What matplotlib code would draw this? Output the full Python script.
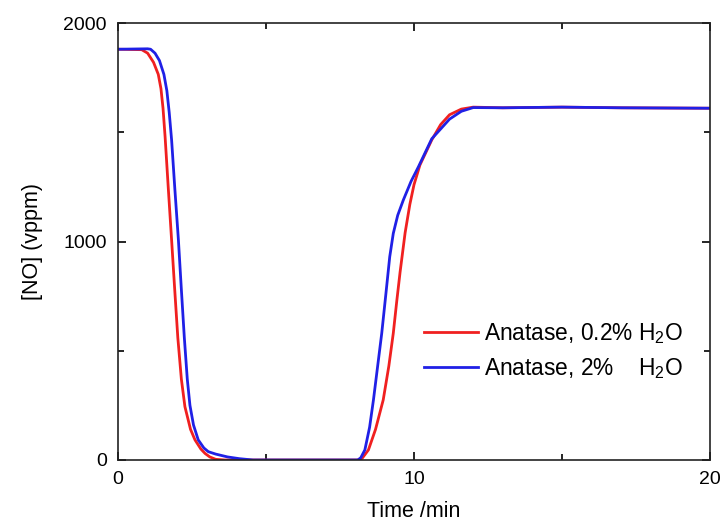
import matplotlib.pyplot as plt
from matplotlib.ticker import MultipleLocator

plt.rcParams['font.family'] = ['Liberation Sans', 'DejaVu Sans']
plt.rcParams['mathtext.default'] = 'regular'

# Anatase, 0.2% H2O
t_red = [0, 0.8, 1.0, 1.2, 1.36, 1.45, 1.52, 1.59, 1.7, 1.81, 1.92, 2.02, 2.14, 2.26,
         2.45, 2.6, 2.8, 2.94, 3.1, 3.3, 3.6,
         7.0, 8.1, 8.25, 8.46, 8.7, 8.96, 9.15, 9.3, 9.42, 9.53, 9.7, 9.86, 10.0,
         10.2, 10.6, 10.9, 11.2, 11.6, 12.0, 13.0, 15.0, 17.0, 20.0]
no_red = [1880, 1878, 1862, 1820, 1765, 1700, 1610, 1480, 1240, 1007, 770, 560, 370, 244,
          140, 92, 50, 30, 14, 3, 0,
          0, 0, 8, 46, 140, 275, 430, 580, 730, 860, 1040, 1170, 1260,
          1350, 1465, 1535, 1580, 1606, 1615, 1612, 1615, 1612, 1610]

# Anatase, 2% H2O
t_blue = [0, 1.0, 1.1, 1.25, 1.4, 1.55, 1.65, 1.73, 1.81, 1.92, 2.04, 2.14, 2.24,
          2.34, 2.43, 2.55, 2.71, 2.9, 3.05, 3.3, 3.7, 4.1, 4.56,
          7.0, 8.1, 8.2, 8.34, 8.5, 8.63, 8.91, 9.05, 9.18, 9.3, 9.45, 9.64, 9.9, 10.15,
          10.6, 11.2, 11.6, 12.0, 13.0, 15.0, 17.0, 20.0]
no_blue = [1880, 1882, 1880, 1862, 1828, 1765, 1690, 1590, 1465, 1240, 1007, 780, 560,
           370, 250, 160, 92, 55, 38, 27, 14, 6, 0,
           0, 0, 10, 46, 150, 275, 580, 760, 930, 1037, 1120, 1190, 1275, 1342,
           1470, 1560, 1596, 1613, 1612, 1615, 1612, 1610]

labels = ['Anatase, 0.2% H$_2$O', 'Anatase, 2%    H$_2$O']

fig = plt.figure(figsize=(7.21, 5.22), dpi=100)
ax = fig.add_axes([0.1637, 0.1188, 0.821, 0.8371])

ax.plot(t_red, no_red, color='#f02020', lw=2.0, label=labels[0], solid_joinstyle='round')
ax.plot(t_blue, no_blue, color='#2020e6', lw=2.0, label=labels[1], solid_joinstyle='round')

ax.set_xlim(0, 20)
ax.set_ylim(0, 2000)
ax.xaxis.set_major_locator(MultipleLocator(10))
ax.xaxis.set_minor_locator(MultipleLocator(5))
ax.yaxis.set_major_locator(MultipleLocator(1000))
ax.yaxis.set_minor_locator(MultipleLocator(500))
ax.tick_params(which='both', direction='in', top=True, right=True, labelsize=14, width=1.2)
ax.tick_params(which='major', length=6, pad=8)
ax.tick_params(which='minor', length=4)
for s in ax.spines.values():
    s.set_linewidth(1.2)
    s.set_color('#222222')

ax.set_xlabel('Time /min', fontsize=15.5, labelpad=9)
ax.set_ylabel('[NO] (vppm)', fontsize=15.5, labelpad=15)

ax.legend(loc='center left', bbox_to_anchor=(0.497, 0.25), frameon=False, fontsize=16.4,
          handlelength=2.4, handletextpad=0.25, borderpad=0, labelspacing=0.45)

fig.savefig('out.png', dpi=100)
